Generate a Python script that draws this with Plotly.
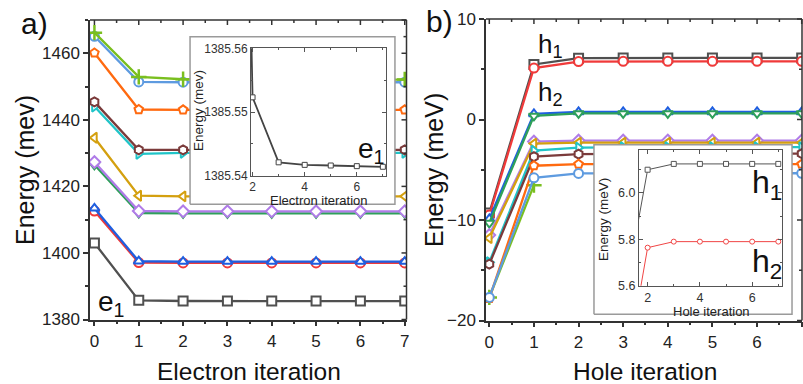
import plotly.graph_objects as go

W, H = 803, 384

# ---------------- data ----------------
elec_iter = [0, 1, 2, 3, 4, 5, 6, 7]
hole_iter = [0, 1, 2, 3, 4, 5, 6, 7]

# Electron energies (meV), panel a
E_e1      = [1403.0, 1385.75, 1385.5523, 1385.5421, 1385.5417, 1385.5416, 1385.5415, 1385.5414]
E_red     = [1412.6, 1397.1, 1397.0, 1397.0, 1397.0, 1397.0, 1397.0, 1397.0]
E_blue    = [1413.4, 1397.5, 1397.4, 1397.4, 1397.4, 1397.4, 1397.4, 1397.4]
E_green   = [1426.5, 1412.0, 1411.9, 1411.9, 1411.9, 1411.9, 1411.9, 1411.9]
E_purple  = [1427.3, 1412.6, 1412.5, 1412.5, 1412.5, 1412.5, 1412.5, 1412.5]
E_mustard = [1434.6, 1417.2, 1417.0, 1417.0, 1417.0, 1417.0, 1417.0, 1417.0]
E_cyan    = [1444.0, 1429.8, 1430.1, 1430.1, 1430.1, 1430.1, 1430.1, 1430.1]
E_brown   = [1445.4, 1431.0, 1431.0, 1431.0, 1431.0, 1431.0, 1431.0, 1431.0]
E_orange  = [1460.1, 1443.1, 1443.0, 1443.0, 1443.0, 1443.0, 1443.0, 1443.0]
E_lblue   = [1465.1, 1451.4, 1451.3, 1451.3, 1451.3, 1451.3, 1451.3, 1451.3]
E_lime    = [1466.2, 1452.9, 1452.2, 1452.1, 1452.1, 1452.1, 1452.1, 1452.1]

# Hole energies (meV), panel b
H_h1      = [-9.3, 5.48, 6.10, 6.125, 6.125, 6.125, 6.125, 6.125]
H_h2      = [-9.5, 5.12, 5.764, 5.79, 5.79, 5.79, 5.79, 5.79]
H_blue    = [-9.9, 0.55, 0.75, 0.75, 0.75, 0.75, 0.75, 0.75]
H_green   = [-10.3, 0.36, 0.6, 0.6, 0.6, 0.6, 0.6, 0.6]
H_purple  = [-11.5, -2.2, -2.1, -2.1, -2.1, -2.1, -2.1, -2.1]
H_mustard = [-11.8, -2.4, -2.3, -2.3, -2.3, -2.3, -2.3, -2.3]
H_cyan    = [-14.2, -3.1, -2.8, -2.75, -2.75, -2.75, -2.75, -2.75]
H_brown   = [-14.4, -3.7, -3.45, -3.4, -3.4, -3.4, -3.4, -3.4]
H_orange  = [-17.8, -4.6, -4.45, -4.45, -4.45, -4.45, -4.45, -4.45]
H_lblue   = [-17.7, -5.8, -5.37, -5.35, -5.35, -5.35, -5.35, -5.35]
H_lime    = [-17.7, -6.53, None, None, None, None, None, None]

# inset data
inset_e_iter = [1, 2, 3, 4, 5, 6, 7]
inset_e1 = E_e1[1:]
inset_h_iter = [1, 2, 3, 4, 5, 6, 7]
inset_h1 = H_h1[1:]
inset_h2 = H_h2[1:]

colors = {
    "gray": "#505050", "red": "#F03A3A", "blue": "#1F5FE0", "green": "#2EA05A",
    "purple": "#B07CE8", "mustard": "#D4A00F", "cyan": "#20C4C8", "brown": "#7B3B3B",
    "orange": "#FF6A10", "lblue": "#5E9BE0", "lime": "#7ABF1F",
}
series_style = [
    ("gray", "square"), ("red", "circle"), ("blue", "triangle-up"),
    ("green", "triangle-down"), ("purple", "diamond"), ("mustard", "triangle-left"),
    ("cyan", "triangle-right"), ("brown", "hexagon"), ("orange", "pentagon"),
    ("lblue", "circle"), ("lime", "cross-thin"),
]
E_series = [E_e1, E_red, E_blue, E_green, E_purple, E_mustard, E_cyan, E_brown, E_orange, E_lblue, E_lime]
H_series = [H_h1, H_h2, H_blue, H_green, H_purple, H_mustard, H_cyan, H_brown, H_orange, H_lblue, H_lime]

FONT = "Arial, Liberation Sans, sans-serif"
AX = "#333333"


def px(x):
    return x / W


def py(y):
    return 1 - y / H


fig = go.Figure()


def add_series(xs, ys, xa, ya, lime_first=False):
    items = list(zip(series_style, ys))
    if lime_first:
        items = items[-1:] + items[:-1]
    for (cname, sym), yv in items:
        c = colors[cname]
        if sym == "cross-thin":
            marker = dict(symbol="cross-thin", size=11, color=c, line=dict(color=c, width=2.5))
        else:
            marker = dict(symbol=sym, size=9, color="white", line=dict(color=c, width=2))
        fig.add_trace(go.Scatter(x=xs, y=yv, mode="lines+markers", line=dict(color=c, width=2.3),
                                 marker=marker, xaxis=xa, yaxis=ya, showlegend=False,
                                 hoverinfo="skip", connectgaps=False))


add_series(elec_iter, E_series, "x", "y")
add_series(hole_iter, H_series, "x2", "y2", lime_first=True)

# inset background boxes
for xa, ya in (("x3", "y3"), ("x4", "y4")):
    fig.add_trace(go.Scatter(x=[0, 1, 1, 0, 0], y=[0, 0, 1, 1, 0], mode="lines", fill="toself",
                             fillcolor="white", line=dict(color="#9a9a9a", width=1.5),
                             xaxis=xa, yaxis=ya, showlegend=False, hoverinfo="skip"))

# inset a
fig.add_trace(go.Scatter(x=inset_e_iter, y=inset_e1, mode="lines+markers",
                         line=dict(color="#444444", width=1.8),
                         marker=dict(symbol="square", size=5, color="white", line=dict(color="#444444", width=1)),
                         xaxis="x5", yaxis="y5", showlegend=False, hoverinfo="skip"))
# inset b
fig.add_trace(go.Scatter(x=inset_h_iter, y=inset_h1, mode="lines+markers",
                         line=dict(color="#555555", width=1),
                         marker=dict(symbol="square", size=5, color="white", line=dict(color="#555555", width=1)),
                         xaxis="x6", yaxis="y6", showlegend=False, hoverinfo="skip"))
fig.add_trace(go.Scatter(x=inset_h_iter, y=inset_h2, mode="lines+markers",
                         line=dict(color="#F04545", width=1),
                         marker=dict(symbol="circle", size=5, color="white", line=dict(color="#F04545", width=1)),
                         xaxis="x6", yaxis="y6", showlegend=False, hoverinfo="skip"))

tickfont = dict(family=FONT, size=17, color="#222")


def main_axis(domain, rng, tickvals, minor_dtick, anchor):
    return dict(domain=domain, range=rng, tickvals=tickvals, ticks="outside", ticklen=5, tickwidth=1.5,
                tickcolor=AX,
                minor=dict(dtick=minor_dtick, ticks="outside", ticklen=3, tickwidth=1.5, tickcolor=AX,
                           showgrid=False),
                showline=True, linecolor=AX, linewidth=1.5, showgrid=False, zeroline=False,
                tickfont=tickfont, fixedrange=True, automargin=False, anchor=anchor)


def inset_axis(domain, rng, tickvals, minor_dtick, anchor, fmt=None, size=12):
    d = dict(domain=domain, range=rng, tickvals=tickvals, ticks="inside", ticklen=4, tickwidth=1,
             tickcolor="#555", mirror="ticks",
             minor=dict(dtick=minor_dtick, ticks="inside", ticklen=2, tickwidth=1, tickcolor="#555", showgrid=False),
             showline=True, linecolor="#555", linewidth=1, showgrid=False, zeroline=False,
             tickfont=dict(family=FONT, size=size, color="#333"), anchor=anchor, fixedrange=True,
             automargin=False)
    if fmt:
        d["tickformat"] = fmt
    return d


xa_rng = [-0.1, 7.04]
ya_rng = [1380, 1470]
xb_rng = [-0.074, 7.007]
yb_rng = [-20, 10]

# plot areas in pixels: (left, right, top, bottom)
A_PX = (90, 406.5, 20, 319.5)
B_PX = (486, 802, 19, 320.5)

xa_dom = [px(A_PX[0]), px(A_PX[1])]
ya_dom = [py(A_PX[3]), py(A_PX[2])]
xb_dom = [px(B_PX[0]), px(B_PX[1])]
yb_dom = [py(B_PX[3]), py(B_PX[2])]

ya_ticks = [1380, 1400, 1420, 1440, 1460]
yb_ticks = [-20, -10, 0, 10]

bg_rng = [-0.01, 1.01]


def bg_axis(dom, anc):
    return dict(domain=dom, range=bg_rng, visible=False, anchor=anc, fixedrange=True, automargin=False)


fig.update_layout(
    template="none",
    width=W, height=H, margin=dict(l=0, r=0, t=0, b=0, pad=0, autoexpand=False),
    paper_bgcolor="white", plot_bgcolor="rgba(0,0,0,0)", showlegend=False,
    font=dict(family=FONT, color="#222"),
    xaxis=main_axis(xa_dom, xa_rng, elec_iter, 0.5, "y"),
    yaxis=main_axis(ya_dom, ya_rng, ya_ticks, 10, "x"),
    xaxis2=main_axis(xb_dom, xb_rng, hole_iter, 0.5, "y2"),
    yaxis2=main_axis(yb_dom, yb_rng, yb_ticks, 5, "x2"),
    xaxis3=bg_axis([px(188), px(397)], "y3"),
    yaxis3=bg_axis([py(206), py(35)], "x3"),
    xaxis4=bg_axis([px(592), px(794)], "y4"),
    yaxis4=bg_axis([py(316), py(143)], "x4"),
    xaxis5=inset_axis([px(251), px(386)], [1.94, 7.12], [2, 4, 6], 1, "y5", size=12),
    yaxis5=inset_axis([py(175.7), py(48.3)], [1385.54, 1385.56], [1385.54, 1385.55, 1385.56], 0.005, "x5",
                      fmt=".2f", size=12),
    xaxis6=inset_axis([px(639), px(781.7)], [1.67, 7.13], [2, 4, 6], 1, "y6", size=12.5),
    yaxis6=inset_axis([py(285.7), py(150)], [5.6, 6.185], [5.6, 5.8, 6.0], 0.1, "x6", fmt=".1f", size=12.5),
)


# top / right frame edges with inward ticks, as paper-referenced lines derived from each axis scale
def add_frame(pxbox, xrng, yrng, xticks, yticks):
    l, r, t, b = pxbox
    line = dict(color=AX, width=1.5)

    def xpix(v):
        return l + (v - xrng[0]) / (xrng[1] - xrng[0]) * (r - l)

    def ypix(v):
        return b - (v - yrng[0]) / (yrng[1] - yrng[0]) * (b - t)

    rr = min(r, W - 0.75)
    fig.add_shape(type="line", xref="paper", yref="paper", x0=px(l), x1=px(rr), y0=py(t), y1=py(t),
                  line=line, layer="above")
    fig.add_shape(type="line", xref="paper", yref="paper", x0=px(rr), x1=px(rr), y0=py(t), y1=py(b),
                  line=line, layer="above")
    xminor = [(a + c) / 2 for a, c in zip(xticks[:-1], xticks[1:])]
    yminor = [(a + c) / 2 for a, c in zip(yticks[:-1], yticks[1:])]
    for vals, ln in ((xticks, 5), (xminor, 3)):
        for v in vals:
            xp = xpix(v)
            if xp > rr:
                continue
            fig.add_shape(type="line", xref="paper", yref="paper", x0=px(xp), x1=px(xp),
                          y0=py(t), y1=py(t + ln), line=line, layer="above")
    for vals, ln in ((yticks, 5), (yminor, 3)):
        for v in vals:
            yp = ypix(v)
            fig.add_shape(type="line", xref="paper", yref="paper", x0=px(rr), x1=px(rr - ln),
                          y0=py(yp), y1=py(yp), line=line, layer="above")


add_frame(A_PX, xa_rng, ya_rng, elec_iter, ya_ticks + [ya_rng[1]])
add_frame(B_PX, xb_rng, yb_rng, hole_iter, yb_ticks)


def ann(text, x, y, size, angle=0, xanchor="center", yanchor="middle", color="#111"):
    fig.add_annotation(text=text, x=px(x), y=py(y), xref="paper", yref="paper", showarrow=False,
                       textangle=angle, xanchor=xanchor, yanchor=yanchor,
                       font=dict(family=FONT, size=size, color=color))


ann("a)", 34, 23, 30)
ann("b)", 439, 22, 30)
ann("Energy (mev)", 25, 170, 25, angle=-90)
ann("Electron iteration", 249, 371, 24.5)
ann("Energy (meV)", 434, 170, 25, angle=-90)
ann("Hole iteration", 645, 371, 24.5)
ann("e<sub>1</sub>", 96, 303, 28, xanchor="left")
ann("h<sub>1</sub>", 536, 46, 26, xanchor="left")
ann("h<sub>2</sub>", 536, 94, 26, xanchor="left")
# inset a
ann("Energy (mev)", 198, 111, 13.5, angle=-90, color="#222")
ann("Electron iteration", 319, 200, 13, color="#222")
ann("e<sub>1</sub>", 356, 150, 28, xanchor="left")
# inset b
ann("Energy (meV)", 603, 220, 13.5, angle=-90, color="#222")
ann("Hole iteration", 711, 311, 13, color="#222")
ann("h<sub>1</sub>", 750, 184, 32, xanchor="left")
ann("h<sub>2</sub>", 750, 263, 32, xanchor="left")

fig.write_html("out.html", config={"displayModeBar": False},
               post_script="document.body.style.margin='0px';document.body.style.padding='0px';")
